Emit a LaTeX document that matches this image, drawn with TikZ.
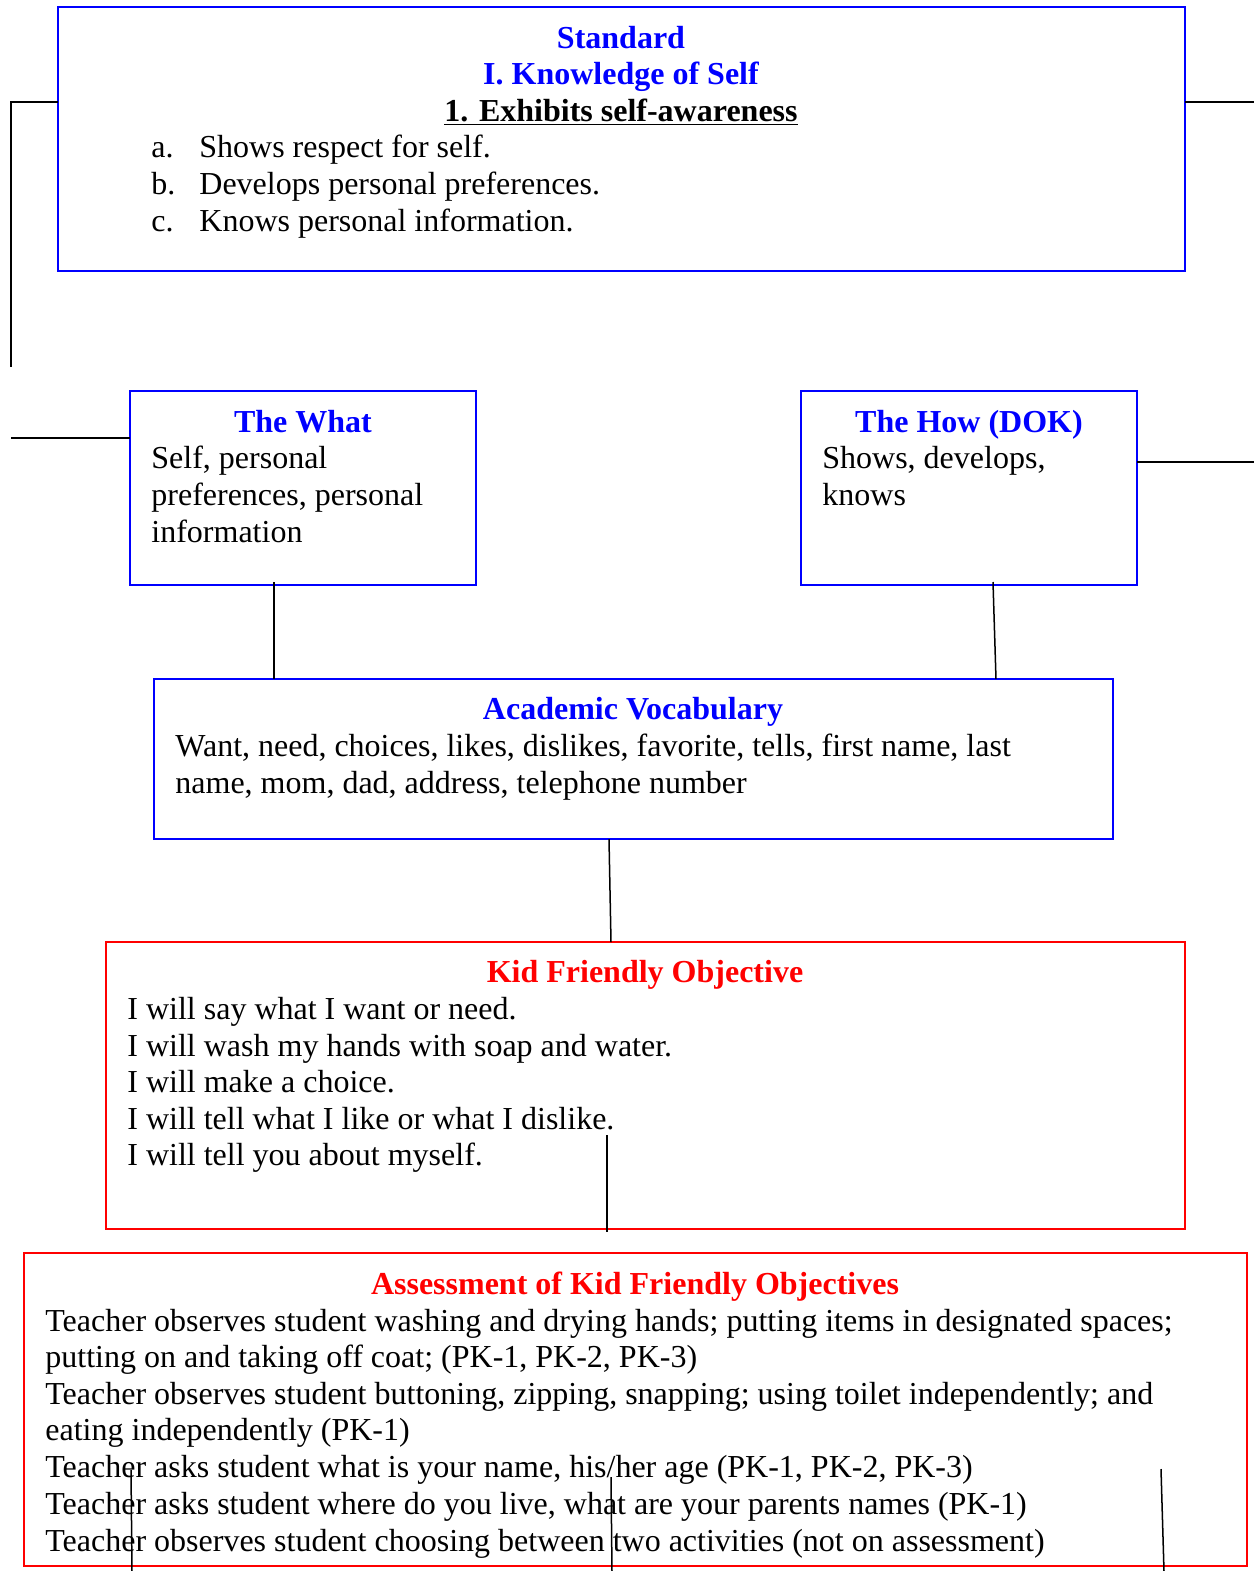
\documentclass[tikz,border=0pt]{standalone}
\usepackage{fontspec}
\setmainfont{Liberation Serif}
\definecolor{pblue}{RGB}{0,0,255}
\definecolor{pred}{RGB}{255,0,0}
\begin{document}
\begin{tikzpicture}[x=0.5pt,y=-0.5pt,
  box/.style={draw, line width=1pt, inner sep=0pt, outer sep=0pt, anchor=north west},
  bluebox/.style={box, draw=pblue},
  redbox/.style={box, draw=pred},
  txt/.style={inner sep=0pt, anchor=base west, font=\fontsize{16}{18.5}\selectfont},
  ttl/.style={inner sep=0pt, anchor=base, font=\fontsize{16}{18.5}\selectfont\bfseries},
  conn/.style={draw=black, line width=0.75pt}]
\useasboundingbox (0,0) rectangle (1254,1571);
% boxes
\node[bluebox, minimum width=563.5pt, minimum height=132pt] (std) at (58,7) {};
\node[bluebox, minimum width=173pt, minimum height=97pt] (what) at (130,391) {};
\node[bluebox, minimum width=168pt, minimum height=97pt] (how) at (801,391) {};
\node[bluebox, minimum width=479.5pt, minimum height=80pt] (voc) at (154,679) {};
\node[redbox, minimum width=539.5pt, minimum height=143.5pt] (kid) at (106,942) {};
\node[redbox, minimum width=611.5pt, minimum height=156.5pt] (ass) at (24,1253) {};
% standard text
\node[ttl, text=pblue] (s1) at (621,48) {Standard};
\node[ttl, text=pblue] (s2) at (621,84) {I. Knowledge of Self};
\node[ttl] (s3) at (621,121) {\underline{1. Exhibits self-awareness}};
\node[txt] (sa) at (151,157) {a.};
\node[txt] (sat) at (199,157) {Shows respect for self.};
\node[txt] (sb) at (151,194) {b.};
\node[txt] (sbt) at (199,194) {Develops personal preferences.};
\node[txt] (sc) at (151,231) {c.};
\node[txt] (sct) at (199,231) {Knows personal information.};
% what
\node[ttl, text=pblue] (w0) at (303,432) {The What};
\node[txt] (w1) at (151,468) {Self, personal};
\node[txt] (w2) at (151,505) {preferences, personal};
\node[txt] (w3) at (151,542) {information};
% how
\node[ttl, text=pblue] (h0) at (969,432) {The How (DOK)};
\node[txt] (h1) at (822,468) {Shows, develops,};
\node[txt] (h2) at (822,505) {knows};
% vocabulary
\node[ttl, text=pblue] (v0) at (633,719) {Academic Vocabulary};
\node[txt] (v1) at (175,756) {Want, need, choices, likes, dislikes, favorite, tells, first name, last};
\node[txt] (v2) at (175,793) {name, mom, dad, address, telephone number};
% kid friendly
\node[ttl, text=pred] (k0) at (645,982) {Kid Friendly Objective};
\node[txt] (k1) at (127,1019) {I will say what I want or need.};
\node[txt] (k2) at (127,1056) {I will wash my hands with soap and water.};
\node[txt] (k3) at (127,1092) {I will make a choice.};
\node[txt] (k4) at (127,1129) {I will tell what I like or what I dislike.};
\node[txt] (k5) at (127,1165) {I will tell you about myself.};
% assessment
\node[ttl, text=pred] (a0) at (635,1294) {Assessment of Kid Friendly Objectives};
\node[txt] (a1) at (45,1331) {Teacher observes student washing and drying hands; putting items in designated spaces;};
\node[txt] (a2) at (45,1367) {putting on and taking off coat; (PK-1, PK-2, PK-3)};
\node[txt] (a3) at (45,1404) {Teacher observes student buttoning, zipping, snapping; using toilet independently; and};
\node[txt] (a4) at (45,1440) {eating independently (PK-1)};
\node[txt] (a5) at (45,1477) {Teacher asks student what is your name, his/her age (PK-1, PK-2, PK-3)};
\node[txt] (a6) at (45,1514) {Teacher asks student where do you live, what are your parents names (PK-1)};
\node[txt] (a7) at (45,1551) {Teacher observes student choosing between two activities (not on assessment)};
% connector coordinates
\coordinate (c1) at (11,102);
\coordinate (c1b) at (11,367);
\coordinate (c2) at (11,438);
\coordinate (c3) at (1254,102);
\coordinate (c4) at (1254,462);
\coordinate (c5) at (274,582);
\coordinate (c6) at (993,582);
\coordinate (c6b) at (996,679);
\coordinate (c7) at (609,839);
\coordinate (c7b) at (611,942);
\coordinate (c8) at (607,1135);
\coordinate (c8b) at (607,1232);
\coordinate (c9) at (131,1470);
\coordinate (c9b) at (132,1571);
\coordinate (c10) at (611,1477);
\coordinate (c10b) at (612,1571);
\coordinate (c11) at (1161,1469);
\coordinate (c11b) at (1164,1571);
% connectors
\draw[conn] (std.west |- c1) -- (c1) -- (c1b);
\draw[conn] (c2) -- (what.west |- c2);
\draw[conn] (std.east |- c3) -- (c3);
\draw[conn] (how.east |- c4) -- (c4);
\draw[conn] (c5) -- (c5 |- voc.north);
\draw[conn] (c6) -- (c6b);
\draw[conn] (c7) -- (c7b);
\draw[conn] (c8) -- (c8b);
\draw[conn] (c9) -- (c9b);
\draw[conn] (c10) -- (c10b);
\draw[conn] (c11) -- (c11b);
\end{tikzpicture}
\end{document}
